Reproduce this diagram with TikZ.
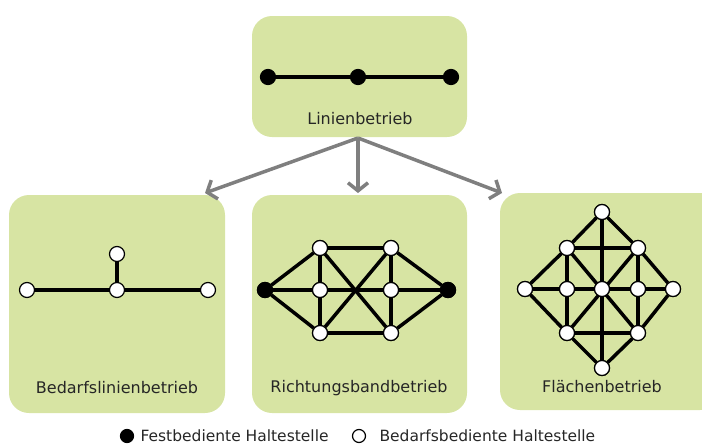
\documentclass[tikz,border=0pt]{standalone}
\usepackage{fontspec}
\setmainfont{DejaVu Sans}
\usetikzlibrary{arrows.meta}
\definecolor{boxgreen}{HTML}{D7E4A3}
\definecolor{arrowgray}{HTML}{7F7F7F}
\begin{document}
\begin{tikzpicture}[x=1pt,y=-1pt,
		panel/.style={fill=boxgreen,draw=none,rounded corners=20pt},
		fest/.style={circle,fill=black,draw=black,line width=1.2pt,inner sep=0pt,minimum size=15pt},
		bedarf/.style={circle,fill=white,draw=black,line width=1.2pt,inner sep=0pt,minimum size=15pt},
		edge/.style={line width=3.5pt,black},
		flow/.style={line width=3.5pt,arrowgray,-{Straight Barb[length=8pt,width=20pt]}},
		label/.style={font=\fontsize{16}{19}\selectfont,text=black!85}]
	\useasboundingbox (0,0) rectangle (702,445);
	% panels
	\fill[panel] (252,16) rectangle (467,137);
	\fill[panel] (9,195) rectangle (225,413);
	\fill[panel] (252,195) rectangle (467,413);
	\fill[panel] (500,193) rectangle (720,410);
	% arrows
	\coordinate (src) at (358,138);
	\coordinate (tipL) at (205,193);
	\coordinate (tipM) at (358,193);
	\coordinate (tipR) at (502,193);
	\draw[flow] (src) -- (tipL);
	\draw[flow] (src) -- (tipM);
	\draw[flow] (src) -- (tipR);
	% Linienbetrieb
	\node[fest] (l1) at (268,77) {};
	\node[fest] (l2) at (358,77) {};
	\node[fest] (l3) at (451,77) {};
	\draw[edge] (l1) -- (l2) -- (l3);
	\node[label] (tL) at (360,119) {Linienbetrieb};
	% Bedarfslinienbetrieb
	\node[bedarf] (b1) at (27,290) {};
	\node[bedarf] (b2) at (117,290) {};
	\node[bedarf] (b3) at (208,290) {};
	\node[bedarf] (b4) at (117,254) {};
	\draw[edge] (b1) -- (b2) -- (b3);
	\draw[edge] (b2) -- (b4);
	\node[label] (tB) at (117,388) {Bedarfslinienbetrieb};
	% Richtungsbandbetrieb
	\node[fest] (rw) at (265,290) {};
	\node[fest] (re) at (448,290) {};
	\foreach \n/\x/\y in {tl/320/248,ml/320/290,bl/320/333,tr/391/248,mr/391/290,br/391/333}
		\node[bedarf] (r\n) at (\x,\y) {};
	\foreach \a/\b in {rw/rtl,rw/rml,rw/rbl,re/rtr,re/rmr,re/rbr,rtl/rtr,rbl/rbr,rtl/rml,rml/rbl,rtr/rmr,rmr/rbr,rml/rmr,rtl/rbr,rtr/rbl}
		\draw[edge] (\a) -- (\b);
	\foreach \n in {rtl,rml,rbl,rtr,rmr,rbr}
		\node[bedarf] at (\n) {};
	\node[fest] at (rw) {};
	\node[fest] at (re) {};
	\node[label] (tR) at (359,388) {Richtungsbandbetrieb};
	% Flaechenbetrieb
	\foreach \n/\x/\y in {t/602/212,nw/567/248,ne/638/248,w/525/289,iw/567/289,c/602/289,ie/638/289,e/673/289,sw/567/333,se/638/333,s/602/368}
		\node[bedarf] (f\n) at (\x,\y) {};
	\foreach \a/\b in {ft/fnw,fnw/fw,fw/fsw,fsw/fs,fs/fse,fse/fe,fe/fne,fne/ft,ft/fs,fw/fe,fnw/fne,fsw/fse,fnw/fsw,fne/fse,fnw/fse,fne/fsw}
		\draw[edge] (\a) -- (\b);
	\foreach \n in {t,nw,ne,w,iw,c,ie,e,sw,se,s}
		\node[bedarf] at (f\n) {};
	\node[label] (tF) at (602,387) {Flächenbetrieb};
	% legend
	\node[fest,minimum size=13pt] (kf) at (127,436) {};
	\node[label,anchor=west,font=\fontsize{15.5}{18}\selectfont] (kft) at (137,436) {Festbediente Haltestelle};
	\node[bedarf,minimum size=13pt] (kb) at (359,436) {};
	\node[label,anchor=west,font=\fontsize{15.5}{18}\selectfont] (kbt) at (376,436) {Bedarfsbediente Haltestelle};
\end{tikzpicture}
\end{document}
